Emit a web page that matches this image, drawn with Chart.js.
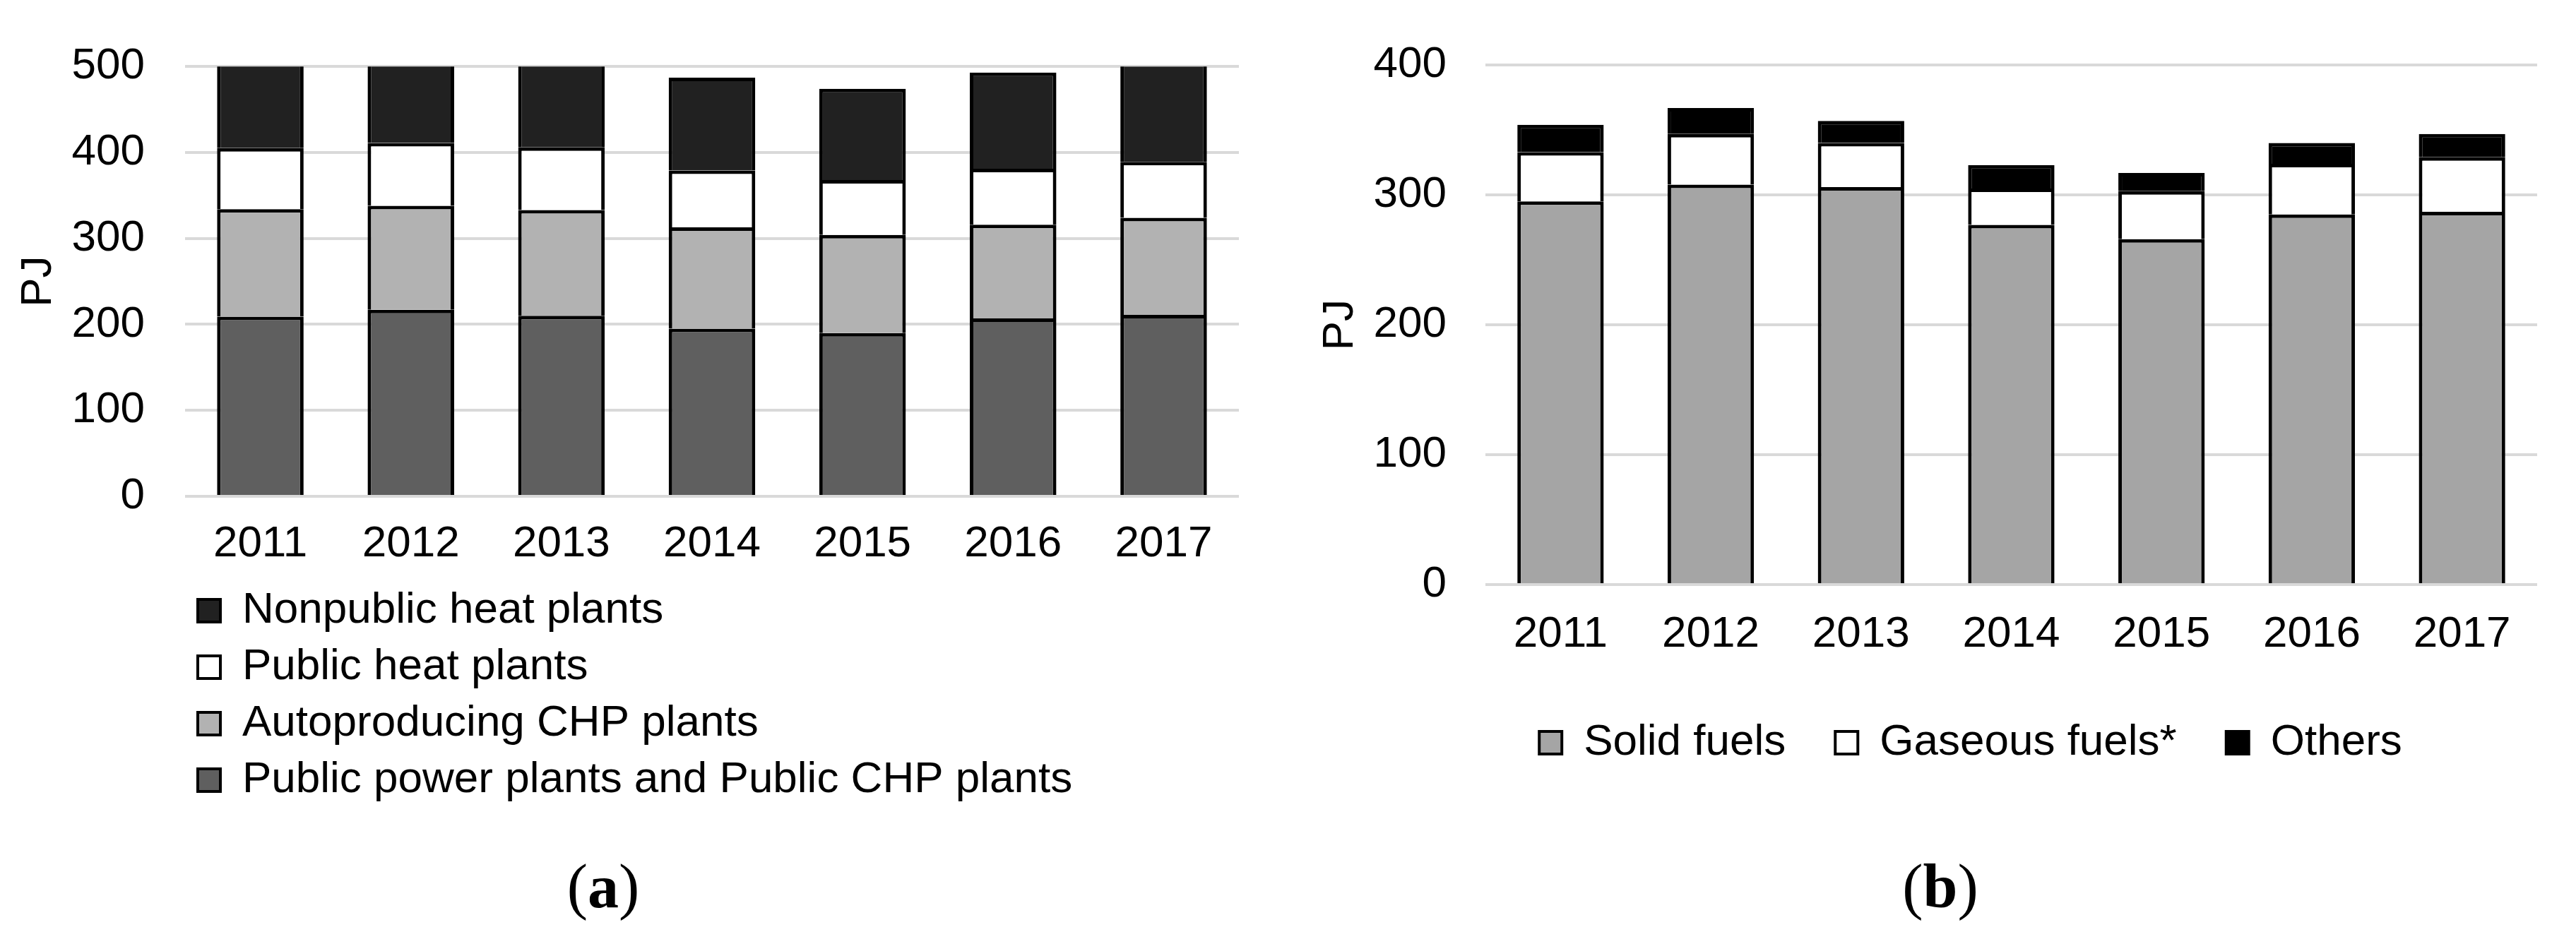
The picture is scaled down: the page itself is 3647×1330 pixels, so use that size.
<!DOCTYPE html>
<html>
<head>
<meta charset="utf-8">
<script src="https://cdn.jsdelivr.net/npm/chart.js@4"></script>
<style>
body { margin: 0; background: #fff; width: 3647px; height: 1330px; position: relative; overflow: hidden; }
canvas { position: absolute; }
.cap { position: absolute; width: 400px; text-align: center; font: 88px 'Liberation Serif', 'Times New Roman', serif; line-height: 100px; color: #000; }
</style>
</head>
<body>
<canvas id="chartA" width="1800" height="800" style="left:0px;top:0px"></canvas>
<canvas id="legendA" width="3000" height="500" style="left:0px;top:780px"></canvas>
<canvas id="chartB" width="1797" height="1000" style="left:1850px;top:0px"></canvas>
<canvas id="legendB" width="1600" height="430" style="left:1990px;top:900px"></canvas>
<div class="cap" style="left:654px;top:1206px">(<b>a</b>)</div>
<div class="cap" style="left:2547px;top:1206px">(<b>b</b>)</div>
<script>
// values, PJ
const years = ['2011', '2012', '2013', '2014', '2015', '2016', '2017'];

// (a) stacked from bottom to top
const publicPower = [209, 217, 210, 195, 190, 207, 211];
const autoCHP = [125, 121, 123, 118, 114, 109, 113];
const publicHeat = [71, 73, 73, 66, 64, 65, 65];
const nonpublicHeat = [110, 105, 104, 108, 106, 112, 115];
const namesA = ['Public power plants and Public CHP plants', 'Autoproducing CHP plants', 'Public heat plants', 'Nonpublic heat plants'];
const colorsA = ['#5f5f5f', '#b2b2b2', '#ffffff', '#212121'];
const ticksA = [0, 100, 200, 300, 400, 500];

// (b)
const solidFuels = [295, 308, 306, 277, 266, 285, 287];
const gaseousFuels = [38, 39, 34, 28, 37, 39, 42];
const others = [21, 20, 17, 18, 14, 16, 18];
const namesB = ['Solid fuels', 'Gaseous fuels*', 'Others'];
const colorsB = ['#a5a5a5', '#ffffff', '#000000'];
const ticksB = [0, 100, 200, 300, 400];

Chart.defaults.font.family = "'Liberation Sans', Arial, sans-serif";
Chart.defaults.font.size = 62;
Chart.defaults.color = '#000';

const font = { size: 62 };

function makeSets(series, names, colors) {
  return series.map((d, i) => ({
    label: names[i],
    data: d,
    backgroundColor: colors[i],
    borderColor: '#000',
    borderWidth: 5,
    categoryPercentage: 1,
    barPercentage: 0.575,
    clip: { top: 0, left: false, right: false, bottom: false }
  }));
}

function scales(ticks, yWidth, yPad, titlePad, xHeight, xPad) {
  return {
    x: {
      stacked: true,
      grid: { display: false, drawTicks: false },
      border: { display: false },
      ticks: { font: font, padding: xPad, maxRotation: 0 },
      afterFit: s => { s.height = xHeight; }
    },
    y: {
      stacked: true,
      min: ticks[0],
      max: ticks[ticks.length - 1],
      afterBuildTicks: s => { s.ticks = ticks.map(v => ({ value: v })); },
      grid: { color: '#d9d9d9', lineWidth: 4, drawTicks: false },
      border: { display: false },
      ticks: { font: font, padding: yPad },
      title: { display: true, text: 'PJ', font: font, padding: { top: titlePad, bottom: 0 } },
      afterFit: s => { s.width = yWidth; }
    }
  };
}

// legend drawn by its own chart instance (no bars, axes hidden)
function legendChart(id, names, colors, pos, reverse, pad, gap) {
  return new Chart(document.getElementById(id), {
    type: 'bar',
    data: {
      labels: [],
      datasets: names.map((n, i) => ({ label: n, data: [], backgroundColor: colors[i], borderColor: '#000', borderWidth: 4 }))
    },
    options: {
      responsive: false,
      animation: false,
      devicePixelRatio: 1,
      layout: { padding: pad },
      scales: { x: { display: false }, y: { display: false } },
      plugins: {
        tooltip: { enabled: false },
        legend: {
          position: pos,
          align: pos === 'left' ? 'start' : 'center',
          reverse: reverse,
          labels: { font: font, boxWidth: 32, boxHeight: 32, padding: gap, color: '#000' }
        }
      }
    }
  });
}

new Chart(document.getElementById('chartA'), {
  type: 'bar',
  data: { labels: years, datasets: makeSets([publicPower, autoCHP, publicHeat, nonpublicHeat], namesA, colorsA) },
  options: {
    responsive: false,
    animation: false,
    devicePixelRatio: 1,
    layout: { padding: { left: 0, top: 94, right: 46, bottom: 0 } },
    plugins: { legend: { display: false }, tooltip: { enabled: false } },
    scales: scales(ticksA, 262, 57, 18, 97, 31)
  }
});
legendChart('legendA', namesA, colorsA, 'left', true, { left: 262, top: 36, right: 0, bottom: 0 }, 18);

new Chart(document.getElementById('chartB'), {
  type: 'bar',
  data: { labels: years, datasets: makeSets([solidFuels, gaseousFuels, others], namesB, colorsB) },
  options: {
    responsive: false,
    animation: false,
    devicePixelRatio: 1,
    layout: { padding: { left: 0, top: 75, right: 55, bottom: 0 } },
    plugins: { legend: { display: false }, tooltip: { enabled: false } },
    scales: scales(ticksB, 253, 55, 11, 172, 34)
  }
});
legendChart('legendB', namesB, colorsB, 'top', false, { left: 0, top: 51, right: 0, bottom: 0 }, 70);
</script>
</body>
</html>
